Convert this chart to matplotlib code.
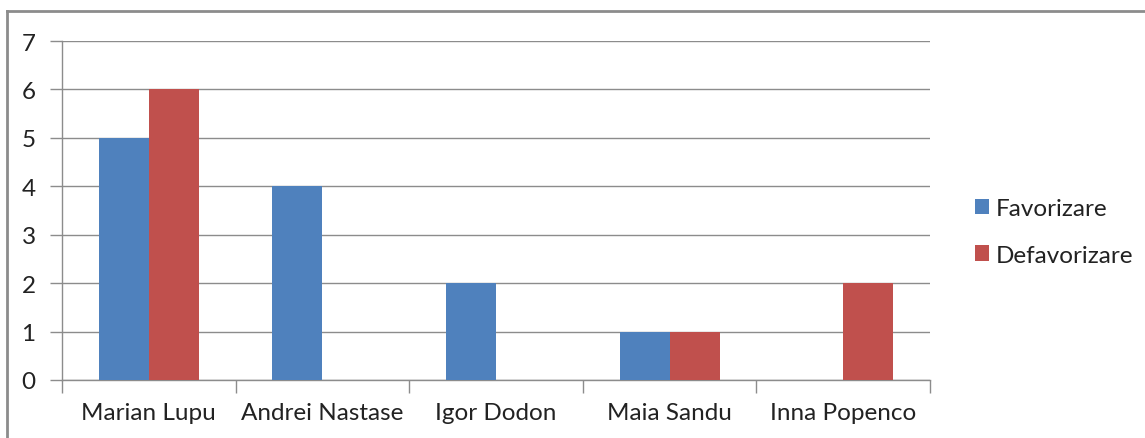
"""Favorizare / Defavorizare bar chart."""

import matplotlib

matplotlib.use("Agg")
import matplotlib.pyplot as plt
import numpy as np
from matplotlib.lines import Line2D
from matplotlib.patches import Patch

CANDIDATES = ["Marian Lupu", "Andrei Nastase", "Igor Dodon", "Maia Sandu", "Inna Popenco"]
FAVORIZARE = [5, 4, 2, 1, 0]
DEFAVORIZARE = [6, 0, 0, 1, 2]
SERIES_LABELS = ["Favorizare", "Defavorizare"]
COLORS = ["#4f81bd", "#c0504d"]
Y_TICKS = [0, 1, 2, 3, 4, 5, 6, 7]

plt.rcParams["font.family"] = ["Lato", "DejaVu Sans"]

W, H = 1145, 439
fig = plt.figure(figsize=(W / 100, H / 100), dpi=100)
ax = fig.add_axes([62 / W, 1 - 381 / H, (930 - 62) / W, (381 - 42) / H])

x = np.arange(len(CANDIDATES))
width = 0.288
ax.bar(x - width / 2, FAVORIZARE, width=width, color=COLORS[0], zorder=3)
ax.bar(x + width / 2, DEFAVORIZARE, width=width, color=COLORS[1], zorder=3)

ax.set_xlim(-0.5, len(CANDIDATES) - 0.5)
ax.set_ylim(0, 7)
ax.set_yticks(Y_TICKS)
ax.set_yticklabels([str(v) for v in Y_TICKS])
ax.set_xticks(x)
ax.set_xticklabels(CANDIDATES)
ax.set_xticks(np.arange(len(CANDIDATES) + 1) - 0.5, minor=True)

ax.grid(axis="y", color="#8c8c8c", linewidth=1.0, zorder=0)
ax.set_axisbelow(True)
for side in ["top", "right"]:
    ax.spines[side].set_visible(False)
for side in ["left", "bottom"]:
    ax.spines[side].set_color("#8c8c8c")
    ax.spines[side].set_linewidth(1.0)

ax.tick_params(axis="y", length=9, width=1.0, color="#8c8c8c", labelsize=17.5, pad=10, labelcolor="#222222")
ax.tick_params(axis="x", which="major", length=0, labelsize=17.5, pad=16, labelcolor="#222222")
ax.tick_params(axis="x", which="minor", length=9, width=1.0, color="#8c8c8c")

handles = [Patch(facecolor=c, edgecolor="none", label=l) for c, l in zip(COLORS, SERIES_LABELS)]
fig.legend(
    handles=handles,
    loc="center left",
    bbox_to_anchor=(953 / W, 1 - 233 / H),
    frameon=False,
    fontsize=17.5,
    handlelength=0.6,
    handleheight=0.6,
    handletextpad=0.25,
    labelspacing=1.05,
    labelcolor="#222222",
)

# outer chart frame (only left and top edges visible)
fig.add_artist(Line2D([6.5 / W, 6.5 / W], [0, 1 - 12 / H], color="#8c8c8c", linewidth=2.0))
fig.add_artist(Line2D([6.5 / W, 1], [1 - 12 / H, 1 - 12 / H], color="#8c8c8c", linewidth=2.0))

fig.savefig("out.png", dpi=100, facecolor="white")
plt.close("all")
